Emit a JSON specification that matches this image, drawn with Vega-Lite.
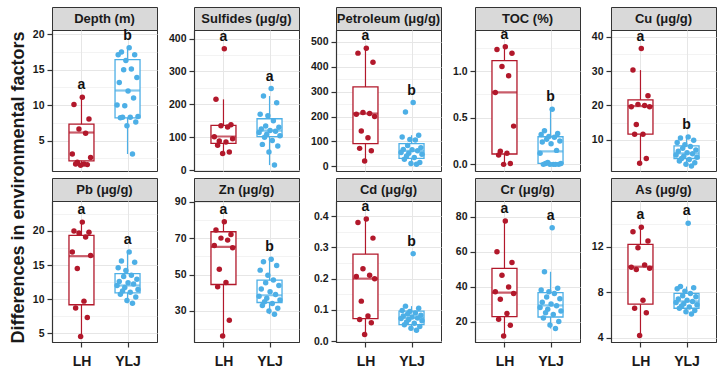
{
"$schema": "https://vega.github.io/schema/vega-lite/v6.json",
"background": "white",
"padding": {"left": 9, "top": 6, "right": 3, "bottom": 3},
"title": {"text": "Differences in environmental factors", "orient": "left", "anchor": "middle", "fontSize": 18, "fontWeight": "bold", "font": "Liberation Sans", "color": "#1a1a1a", "offset": 4},
"config": {
  "font": "Liberation Sans",
  "view": {"stroke": "#333333", "strokeWidth": 1},
  "range": {"category": ["#B2182B", "#4DAFE6"]},
  "legend": {"disable": true},
  "axis": {"labelFont": "Liberation Sans", "labelFontWeight": "bold", "labelColor": "#1a1a1a", "tickColor": "#333333", "domainColor": "#333333", "domainWidth": 1.2, "tickWidth": 1.2, "gridColor": "#e6e6e6", "labelOverlap": false},
  "axisY": {"labelFontSize": 10.5, "tickSize": 5, "labelPadding": 3, "labelOverlap": false, "tickCount": 40}
},
"datasets": {
"pts": [
{"v":"Depth","g":"LH","val":11.1,"s":7},{"v":"Depth","g":"LH","val":10.1,"s":2},{"v":"Depth","g":"LH","val":8.05,"s":11},{"v":"Depth","g":"LH","val":6.64,"s":5},{"v":"Depth","g":"LH","val":6.03,"s":9},{"v":"Depth","g":"LH","val":3.1,"s":1},{"v":"Depth","g":"LH","val":2.6,"s":12},{"v":"Depth","g":"LH","val":1.95,"s":4},{"v":"Depth","g":"LH","val":1.7,"s":8},{"v":"Depth","g":"LH","val":1.7,"s":3},{"v":"Depth","g":"LH","val":1.6,"s":10},{"v":"Depth","g":"LH","val":1.5,"s":6},
{"v":"Depth","g":"YLJ","val":18.1,"s":12},{"v":"Depth","g":"YLJ","val":17.5,"s":5},{"v":"Depth","g":"YLJ","val":17.1,"s":17},{"v":"Depth","g":"YLJ","val":17.1,"s":2},{"v":"Depth","g":"YLJ","val":16.3,"s":9},{"v":"Depth","g":"YLJ","val":15.1,"s":14},{"v":"Depth","g":"YLJ","val":15.0,"s":7},{"v":"Depth","g":"YLJ","val":13.9,"s":19},{"v":"Depth","g":"YLJ","val":13.2,"s":3},{"v":"Depth","g":"YLJ","val":12.0,"s":11},{"v":"Depth","g":"YLJ","val":11.0,"s":16},{"v":"Depth","g":"YLJ","val":10.0,"s":1},{"v":"Depth","g":"YLJ","val":9.9,"s":8},{"v":"Depth","g":"YLJ","val":8.4,"s":20},{"v":"Depth","g":"YLJ","val":8.3,"s":6},{"v":"Depth","g":"YLJ","val":8.3,"s":13},{"v":"Depth","g":"YLJ","val":8.2,"s":4},{"v":"Depth","g":"YLJ","val":7.6,"s":18},{"v":"Depth","g":"YLJ","val":7.1,"s":10},{"v":"Depth","g":"YLJ","val":3.1,"s":15},
{"v":"Sulfides","g":"LH","val":369,"s":7},{"v":"Sulfides","g":"LH","val":215,"s":2},{"v":"Sulfides","g":"LH","val":138,"s":11},{"v":"Sulfides","g":"LH","val":135,"s":5},{"v":"Sulfides","g":"LH","val":131,"s":9},{"v":"Sulfides","g":"LH","val":101,"s":1},{"v":"Sulfides","g":"LH","val":95,"s":12},{"v":"Sulfides","g":"LH","val":88,"s":4},{"v":"Sulfides","g":"LH","val":85,"s":8},{"v":"Sulfides","g":"LH","val":75,"s":3},{"v":"Sulfides","g":"LH","val":55,"s":10},{"v":"Sulfides","g":"LH","val":50,"s":6},
{"v":"Sulfides","g":"YLJ","val":248,"s":12},{"v":"Sulfides","g":"YLJ","val":225,"s":5},{"v":"Sulfides","g":"YLJ","val":205,"s":17},{"v":"Sulfides","g":"YLJ","val":170,"s":2},{"v":"Sulfides","g":"YLJ","val":165,"s":9},{"v":"Sulfides","g":"YLJ","val":150,"s":14},{"v":"Sulfides","g":"YLJ","val":134,"s":7},{"v":"Sulfides","g":"YLJ","val":130,"s":19},{"v":"Sulfides","g":"YLJ","val":125,"s":3},{"v":"Sulfides","g":"YLJ","val":120,"s":11},{"v":"Sulfides","g":"YLJ","val":118,"s":16},{"v":"Sulfides","g":"YLJ","val":114,"s":1},{"v":"Sulfides","g":"YLJ","val":109,"s":8},{"v":"Sulfides","g":"YLJ","val":104,"s":20},{"v":"Sulfides","g":"YLJ","val":100,"s":6},{"v":"Sulfides","g":"YLJ","val":90,"s":13},{"v":"Sulfides","g":"YLJ","val":78,"s":4},{"v":"Sulfides","g":"YLJ","val":73,"s":18},{"v":"Sulfides","g":"YLJ","val":55,"s":10},{"v":"Sulfides","g":"YLJ","val":15,"s":15},
{"v":"Petroleum","g":"LH","val":475,"s":7},{"v":"Petroleum","g":"LH","val":455,"s":2},{"v":"Petroleum","g":"LH","val":418,"s":11},{"v":"Petroleum","g":"LH","val":216,"s":5},{"v":"Petroleum","g":"LH","val":212,"s":9},{"v":"Petroleum","g":"LH","val":209,"s":1},{"v":"Petroleum","g":"LH","val":200,"s":12},{"v":"Petroleum","g":"LH","val":142,"s":4},{"v":"Petroleum","g":"LH","val":115,"s":8},{"v":"Petroleum","g":"LH","val":72,"s":3},{"v":"Petroleum","g":"LH","val":62,"s":10},{"v":"Petroleum","g":"LH","val":21,"s":6},
{"v":"Petroleum","g":"YLJ","val":256,"s":12},{"v":"Petroleum","g":"YLJ","val":218,"s":5},{"v":"Petroleum","g":"YLJ","val":125,"s":17},{"v":"Petroleum","g":"YLJ","val":118,"s":2},{"v":"Petroleum","g":"YLJ","val":108,"s":9},{"v":"Petroleum","g":"YLJ","val":106,"s":14},{"v":"Petroleum","g":"YLJ","val":84,"s":7},{"v":"Petroleum","g":"YLJ","val":75,"s":19},{"v":"Petroleum","g":"YLJ","val":68,"s":3},{"v":"Petroleum","g":"YLJ","val":66,"s":11},{"v":"Petroleum","g":"YLJ","val":62,"s":16},{"v":"Petroleum","g":"YLJ","val":55,"s":1},{"v":"Petroleum","g":"YLJ","val":52,"s":8},{"v":"Petroleum","g":"YLJ","val":48,"s":20},{"v":"Petroleum","g":"YLJ","val":41,"s":6},{"v":"Petroleum","g":"YLJ","val":35,"s":13},{"v":"Petroleum","g":"YLJ","val":28,"s":4},{"v":"Petroleum","g":"YLJ","val":15,"s":18},{"v":"Petroleum","g":"YLJ","val":11,"s":10},{"v":"Petroleum","g":"YLJ","val":8,"s":15},
{"v":"TOC","g":"LH","val":1.26,"s":7},{"v":"TOC","g":"LH","val":1.23,"s":2},{"v":"TOC","g":"LH","val":1.19,"s":11},{"v":"TOC","g":"LH","val":1.05,"s":5},{"v":"TOC","g":"LH","val":0.95,"s":9},{"v":"TOC","g":"LH","val":0.77,"s":1},{"v":"TOC","g":"LH","val":0.41,"s":12},{"v":"TOC","g":"LH","val":0.14,"s":4},{"v":"TOC","g":"LH","val":0.12,"s":8},{"v":"TOC","g":"LH","val":0.10,"s":3},{"v":"TOC","g":"LH","val":0.01,"s":10},{"v":"TOC","g":"LH","val":0.0,"s":6},
{"v":"TOC","g":"YLJ","val":0.59,"s":12},{"v":"TOC","g":"YLJ","val":0.36,"s":5},{"v":"TOC","g":"YLJ","val":0.33,"s":17},{"v":"TOC","g":"YLJ","val":0.32,"s":2},{"v":"TOC","g":"YLJ","val":0.30,"s":9},{"v":"TOC","g":"YLJ","val":0.29,"s":14},{"v":"TOC","g":"YLJ","val":0.27,"s":7},{"v":"TOC","g":"YLJ","val":0.25,"s":19},{"v":"TOC","g":"YLJ","val":0.24,"s":3},{"v":"TOC","g":"YLJ","val":0.22,"s":11},{"v":"TOC","g":"YLJ","val":0.15,"s":16},{"v":"TOC","g":"YLJ","val":0.12,"s":1},{"v":"TOC","g":"YLJ","val":0.02,"s":8},{"v":"TOC","g":"YLJ","val":0.01,"s":20},{"v":"TOC","g":"YLJ","val":0.01,"s":6},{"v":"TOC","g":"YLJ","val":0.0,"s":13},{"v":"TOC","g":"YLJ","val":0.0,"s":4},{"v":"TOC","g":"YLJ","val":0.0,"s":18},{"v":"TOC","g":"YLJ","val":0.0,"s":10},{"v":"TOC","g":"YLJ","val":0.0,"s":15},
{"v":"Cu","g":"LH","val":36.6,"s":7},{"v":"Cu","g":"LH","val":30.3,"s":2},{"v":"Cu","g":"LH","val":22.8,"s":11},{"v":"Cu","g":"LH","val":20.3,"s":5},{"v":"Cu","g":"LH","val":20.0,"s":9},{"v":"Cu","g":"LH","val":19.6,"s":1},{"v":"Cu","g":"LH","val":19.6,"s":12},{"v":"Cu","g":"LH","val":14.4,"s":4},{"v":"Cu","g":"LH","val":11.6,"s":8},{"v":"Cu","g":"LH","val":11.6,"s":3},{"v":"Cu","g":"LH","val":4.5,"s":10},{"v":"Cu","g":"LH","val":3.1,"s":6},
{"v":"Cu","g":"YLJ","val":10.8,"s":12},{"v":"Cu","g":"YLJ","val":10.5,"s":5},{"v":"Cu","g":"YLJ","val":9.8,"s":17},{"v":"Cu","g":"YLJ","val":9.2,"s":2},{"v":"Cu","g":"YLJ","val":8.5,"s":9},{"v":"Cu","g":"YLJ","val":8.0,"s":14},{"v":"Cu","g":"YLJ","val":7.5,"s":7},{"v":"Cu","g":"YLJ","val":7.0,"s":19},{"v":"Cu","g":"YLJ","val":6.6,"s":3},{"v":"Cu","g":"YLJ","val":6.2,"s":11},{"v":"Cu","g":"YLJ","val":5.9,"s":16},{"v":"Cu","g":"YLJ","val":5.5,"s":1},{"v":"Cu","g":"YLJ","val":5.2,"s":8},{"v":"Cu","g":"YLJ","val":4.9,"s":20},{"v":"Cu","g":"YLJ","val":4.5,"s":6},{"v":"Cu","g":"YLJ","val":4.2,"s":13},{"v":"Cu","g":"YLJ","val":3.8,"s":4},{"v":"Cu","g":"YLJ","val":3.3,"s":18},{"v":"Cu","g":"YLJ","val":2.8,"s":10},{"v":"Cu","g":"YLJ","val":2.3,"s":15},
{"v":"Pb","g":"LH","val":21.3,"s":7},{"v":"Pb","g":"LH","val":20.0,"s":2},{"v":"Pb","g":"LH","val":19.8,"s":11},{"v":"Pb","g":"LH","val":19.7,"s":5},{"v":"Pb","g":"LH","val":19.1,"s":9},{"v":"Pb","g":"LH","val":16.9,"s":1},{"v":"Pb","g":"LH","val":16.4,"s":12},{"v":"Pb","g":"LH","val":14.5,"s":4},{"v":"Pb","g":"LH","val":9.7,"s":8},{"v":"Pb","g":"LH","val":8.7,"s":3},{"v":"Pb","g":"LH","val":7.3,"s":10},{"v":"Pb","g":"LH","val":4.5,"s":6},
{"v":"Pb","g":"YLJ","val":16.9,"s":12},{"v":"Pb","g":"YLJ","val":15.6,"s":5},{"v":"Pb","g":"YLJ","val":15.4,"s":17},{"v":"Pb","g":"YLJ","val":14.6,"s":2},{"v":"Pb","g":"YLJ","val":14.2,"s":9},{"v":"Pb","g":"YLJ","val":13.5,"s":14},{"v":"Pb","g":"YLJ","val":13.3,"s":7},{"v":"Pb","g":"YLJ","val":12.9,"s":19},{"v":"Pb","g":"YLJ","val":12.6,"s":3},{"v":"Pb","g":"YLJ","val":12.4,"s":11},{"v":"Pb","g":"YLJ","val":12.2,"s":16},{"v":"Pb","g":"YLJ","val":12.0,"s":1},{"v":"Pb","g":"YLJ","val":11.7,"s":8},{"v":"Pb","g":"YLJ","val":11.4,"s":20},{"v":"Pb","g":"YLJ","val":11.2,"s":6},{"v":"Pb","g":"YLJ","val":11.0,"s":13},{"v":"Pb","g":"YLJ","val":10.7,"s":4},{"v":"Pb","g":"YLJ","val":10.3,"s":18},{"v":"Pb","g":"YLJ","val":9.8,"s":10},{"v":"Pb","g":"YLJ","val":9.4,"s":15},
{"v":"Zn","g":"LH","val":79,"s":7},{"v":"Zn","g":"LH","val":74.4,"s":2},{"v":"Zn","g":"LH","val":72,"s":11},{"v":"Zn","g":"LH","val":70,"s":5},{"v":"Zn","g":"LH","val":68.9,"s":9},{"v":"Zn","g":"LH","val":66,"s":1},{"v":"Zn","g":"LH","val":64.7,"s":12},{"v":"Zn","g":"LH","val":52.9,"s":4},{"v":"Zn","g":"LH","val":45.6,"s":8},{"v":"Zn","g":"LH","val":43.2,"s":3},{"v":"Zn","g":"LH","val":24.9,"s":10},{"v":"Zn","g":"LH","val":16.2,"s":6},
{"v":"Zn","g":"YLJ","val":58.4,"s":12},{"v":"Zn","g":"YLJ","val":57,"s":5},{"v":"Zn","g":"YLJ","val":55,"s":17},{"v":"Zn","g":"YLJ","val":52.4,"s":2},{"v":"Zn","g":"YLJ","val":49.6,"s":9},{"v":"Zn","g":"YLJ","val":47,"s":14},{"v":"Zn","g":"YLJ","val":45.5,"s":7},{"v":"Zn","g":"YLJ","val":44,"s":19},{"v":"Zn","g":"YLJ","val":42,"s":3},{"v":"Zn","g":"YLJ","val":40.5,"s":11},{"v":"Zn","g":"YLJ","val":39,"s":16},{"v":"Zn","g":"YLJ","val":38,"s":1},{"v":"Zn","g":"YLJ","val":37,"s":8},{"v":"Zn","g":"YLJ","val":36,"s":20},{"v":"Zn","g":"YLJ","val":35,"s":6},{"v":"Zn","g":"YLJ","val":34,"s":13},{"v":"Zn","g":"YLJ","val":33,"s":4},{"v":"Zn","g":"YLJ","val":31.5,"s":18},{"v":"Zn","g":"YLJ","val":30,"s":10},{"v":"Zn","g":"YLJ","val":28.2,"s":15},
{"v":"Cd","g":"LH","val":0.391,"s":7},{"v":"Cd","g":"LH","val":0.38,"s":2},{"v":"Cd","g":"LH","val":0.33,"s":11},{"v":"Cd","g":"LH","val":0.232,"s":5},{"v":"Cd","g":"LH","val":0.211,"s":9},{"v":"Cd","g":"LH","val":0.207,"s":1},{"v":"Cd","g":"LH","val":0.2,"s":12},{"v":"Cd","g":"LH","val":0.128,"s":4},{"v":"Cd","g":"LH","val":0.08,"s":8},{"v":"Cd","g":"LH","val":0.069,"s":3},{"v":"Cd","g":"LH","val":0.059,"s":10},{"v":"Cd","g":"LH","val":0.021,"s":6},
{"v":"Cd","g":"YLJ","val":0.28,"s":12},{"v":"Cd","g":"YLJ","val":0.112,"s":5},{"v":"Cd","g":"YLJ","val":0.105,"s":17},{"v":"Cd","g":"YLJ","val":0.098,"s":2},{"v":"Cd","g":"YLJ","val":0.095,"s":9},{"v":"Cd","g":"YLJ","val":0.09,"s":14},{"v":"Cd","g":"YLJ","val":0.087,"s":7},{"v":"Cd","g":"YLJ","val":0.083,"s":19},{"v":"Cd","g":"YLJ","val":0.08,"s":3},{"v":"Cd","g":"YLJ","val":0.077,"s":11},{"v":"Cd","g":"YLJ","val":0.074,"s":16},{"v":"Cd","g":"YLJ","val":0.072,"s":1},{"v":"Cd","g":"YLJ","val":0.069,"s":8},{"v":"Cd","g":"YLJ","val":0.065,"s":20},{"v":"Cd","g":"YLJ","val":0.061,"s":6},{"v":"Cd","g":"YLJ","val":0.057,"s":13},{"v":"Cd","g":"YLJ","val":0.052,"s":4},{"v":"Cd","g":"YLJ","val":0.047,"s":18},{"v":"Cd","g":"YLJ","val":0.041,"s":10},{"v":"Cd","g":"YLJ","val":0.035,"s":15},
{"v":"Cr","g":"LH","val":77.5,"s":7},{"v":"Cr","g":"LH","val":59.9,"s":2},{"v":"Cr","g":"LH","val":53.8,"s":11},{"v":"Cr","g":"LH","val":46.5,"s":5},{"v":"Cr","g":"LH","val":39.8,"s":9},{"v":"Cr","g":"LH","val":37,"s":1},{"v":"Cr","g":"LH","val":36,"s":12},{"v":"Cr","g":"LH","val":32.8,"s":4},{"v":"Cr","g":"LH","val":24.6,"s":8},{"v":"Cr","g":"LH","val":21.3,"s":3},{"v":"Cr","g":"LH","val":17.9,"s":10},{"v":"Cr","g":"LH","val":11.7,"s":6},
{"v":"Cr","g":"YLJ","val":73.7,"s":12},{"v":"Cr","g":"YLJ","val":48.5,"s":5},{"v":"Cr","g":"YLJ","val":39,"s":17},{"v":"Cr","g":"YLJ","val":38,"s":2},{"v":"Cr","g":"YLJ","val":37,"s":9},{"v":"Cr","g":"YLJ","val":36,"s":14},{"v":"Cr","g":"YLJ","val":34,"s":7},{"v":"Cr","g":"YLJ","val":33,"s":19},{"v":"Cr","g":"YLJ","val":31,"s":3},{"v":"Cr","g":"YLJ","val":30,"s":11},{"v":"Cr","g":"YLJ","val":29,"s":16},{"v":"Cr","g":"YLJ","val":28,"s":1},{"v":"Cr","g":"YLJ","val":27,"s":8},{"v":"Cr","g":"YLJ","val":26,"s":20},{"v":"Cr","g":"YLJ","val":25,"s":6},{"v":"Cr","g":"YLJ","val":24,"s":13},{"v":"Cr","g":"YLJ","val":22,"s":4},{"v":"Cr","g":"YLJ","val":20,"s":18},{"v":"Cr","g":"YLJ","val":18,"s":10},{"v":"Cr","g":"YLJ","val":16,"s":15},
{"v":"As","g":"LH","val":13.7,"s":7},{"v":"As","g":"LH","val":13.3,"s":2},{"v":"As","g":"LH","val":12.5,"s":11},{"v":"As","g":"LH","val":11.9,"s":5},{"v":"As","g":"LH","val":10.4,"s":9},{"v":"As","g":"LH","val":10.2,"s":1},{"v":"As","g":"LH","val":10.1,"s":12},{"v":"As","g":"LH","val":10.0,"s":4},{"v":"As","g":"LH","val":7.3,"s":8},{"v":"As","g":"LH","val":6.6,"s":3},{"v":"As","g":"LH","val":6.2,"s":10},{"v":"As","g":"LH","val":4.2,"s":6},
{"v":"As","g":"YLJ","val":14.05,"s":12},{"v":"As","g":"YLJ","val":8.5,"s":5},{"v":"As","g":"YLJ","val":8.4,"s":17},{"v":"As","g":"YLJ","val":8.3,"s":2},{"v":"As","g":"YLJ","val":8.1,"s":9},{"v":"As","g":"YLJ","val":7.9,"s":14},{"v":"As","g":"YLJ","val":7.7,"s":7},{"v":"As","g":"YLJ","val":7.6,"s":19},{"v":"As","g":"YLJ","val":7.4,"s":3},{"v":"As","g":"YLJ","val":7.3,"s":11},{"v":"As","g":"YLJ","val":7.2,"s":16},{"v":"As","g":"YLJ","val":7.1,"s":1},{"v":"As","g":"YLJ","val":7.0,"s":8},{"v":"As","g":"YLJ","val":6.9,"s":20},{"v":"As","g":"YLJ","val":6.8,"s":6},{"v":"As","g":"YLJ","val":6.7,"s":13},{"v":"As","g":"YLJ","val":6.6,"s":4},{"v":"As","g":"YLJ","val":6.4,"s":18},{"v":"As","g":"YLJ","val":6.3,"s":10},{"v":"As","g":"YLJ","val":6.1,"s":15}
],
"box": [
{"v":"Depth","g":"LH","lo":1.5,"q1":2.13,"md":6.13,"q3":7.31,"hi":11.1,"mx":11.1,"t":"a"},
{"v":"Depth","g":"YLJ","lo":3.1,"q1":8.2,"md":12.06,"q3":16.43,"hi":18.1,"mx":18.1,"t":"b"},
{"v":"Sulfides","g":"LH","lo":50,"q1":81,"md":102,"q3":136,"hi":215,"mx":369,"t":"a"},
{"v":"Sulfides","g":"YLJ","lo":15,"q1":101.5,"md":120,"q3":156,"hi":225,"mx":248,"t":"a"},
{"v":"Petroleum","g":"LH","lo":21,"q1":91,"md":212,"q3":319,"hi":475,"mx":475,"t":"a"},
{"v":"Petroleum","g":"YLJ","lo":8,"q1":32,"md":62,"q3":91,"hi":125,"mx":256,"t":"b"},
{"v":"TOC","g":"LH","lo":0.0,"q1":0.111,"md":0.771,"q3":1.111,"hi":1.26,"mx":1.26,"t":"a"},
{"v":"TOC","g":"YLJ","lo":0.0,"q1":0.011,"md":0.14,"q3":0.296,"hi":0.59,"mx":0.59,"t":"b"},
{"v":"Cu","g":"LH","lo":3.1,"q1":11.6,"md":19.8,"q3":21.6,"hi":30.3,"mx":36.6,"t":"a"},
{"v":"Cu","g":"YLJ","lo":2.3,"q1":4.5,"md":6.0,"q3":8.2,"hi":10.8,"mx":10.8,"t":"b"},
{"v":"Pb","g":"LH","lo":4.5,"q1":9.17,"md":16.3,"q3":19.36,"hi":21.3,"mx":21.3,"t":"a"},
{"v":"Pb","g":"YLJ","lo":9.4,"q1":10.9,"md":12.0,"q3":13.73,"hi":16.9,"mx":16.9,"t":"a"},
{"v":"Zn","g":"LH","lo":16.2,"q1":44.5,"md":65.2,"q3":73.5,"hi":79,"mx":79,"t":"a"},
{"v":"Zn","g":"YLJ","lo":28.2,"q1":34.6,"md":38.6,"q3":46.9,"hi":58.4,"mx":58.4,"t":"b"},
{"v":"Cd","g":"LH","lo":0.021,"q1":0.072,"md":0.2,"q3":0.279,"hi":0.391,"mx":0.391,"t":"a"},
{"v":"Cd","g":"YLJ","lo":0.035,"q1":0.053,"md":0.074,"q3":0.096,"hi":0.112,"mx":0.28,"t":"b"},
{"v":"Cr","g":"LH","lo":11.7,"q1":22.8,"md":36.6,"q3":50.4,"hi":77.5,"mx":77.5,"t":"a"},
{"v":"Cr","g":"YLJ","lo":16,"q1":22.6,"md":29.3,"q3":36.6,"hi":48.5,"mx":73.7,"t":"a"},
{"v":"As","g":"LH","lo":4.2,"q1":6.96,"md":10.24,"q3":12.2,"hi":13.7,"mx":13.7,"t":"a"},
{"v":"As","g":"YLJ","lo":6.1,"q1":6.6,"md":7.2,"q3":7.9,"hi":8.5,"mx":14.05,"t":"a"}
]
},
"columns": 5,
"spacing": {"row": 0, "column": 9},
"bounds": "full",
"concat": [
{"vconcat":[
 {"width":105,"height":23,"view":{"fill":"#d9d9d9","stroke":"#333333"},"data":{"values":[{"t":"Depth (m)"}]},"mark":{"type":"text","fontSize":13,"fontWeight":"bold","color":"#1a1a1a"},"encoding":{"text":{"field":"t","type":"nominal"}}},
 {"width":105,"height":141,
  "encoding":{"x":{"field":"g","type":"nominal","scale":{"type":"point","domain":["LH","YLJ"],"padding":0.64},"axis":{"title":null,"labels":false,"ticks":false,"domain":false,"grid":true}}},
  "layer":[
   {"data":{"name":"box"},"transform":[{"filter":"datum.v==='Depth'"}],"mark":{"type":"rule","strokeWidth":1.2},"encoding":{"y":{"field":"lo","type":"quantitative","title":null,"scale":{"domain":[0.7,20.6],"nice":false,"zero":false},"axis":{"values":[2.5,5,7.5,10,12.5,15,17.5,20],"tickCount":40,"format":"d","labelExpr":"indexof([5,10,15,20], datum.value) >= 0 ? datum.label : ''","tickOpacity":{"condition":{"test":"indexof([5,10,15,20], datum.value) < 0","value":0},"value":1},"gridWidth":{"condition":{"test":"indexof([5,10,15,20], datum.value) < 0","value":0.5},"value":1},"labelOverlap":false}},"y2":{"field":"hi"},"color":{"field":"g","type":"nominal"}}},
   {"data":{"name":"box"},"transform":[{"filter":"datum.v==='Depth'"}],"mark":{"type":"bar","size":25,"filled":false,"fill":"white","strokeWidth":1.3},"encoding":{"y":{"field":"q1","type":"quantitative","title":null,"scale":{"domain":[0.7,20.6],"nice":false,"zero":false}},"y2":{"field":"q3"},"color":{"field":"g","type":"nominal"}}},
   {"data":{"name":"box"},"transform":[{"filter":"datum.v==='Depth'"}],"mark":{"type":"tick","size":25,"thickness":2.2},"encoding":{"y":{"field":"md","type":"quantitative","title":null,"scale":{"domain":[0.7,20.6],"nice":false,"zero":false}},"color":{"field":"g","type":"nominal"}}},
   {"data":{"name":"pts"},"transform":[{"filter":"datum.v==='Depth' && datum.g==='LH'"}],"mark":{"type":"circle","size":30,"opacity":1},"encoding":{"y":{"field":"val","type":"quantitative","title":null,"scale":{"domain":[0.7,20.6],"nice":false,"zero":false}},"xOffset":{"field":"s","type":"quantitative","scale":{"domain":[0.5,12.5],"range":[-10,10]}},"color":{"field":"g","type":"nominal"}}},
   {"data":{"name":"pts"},"transform":[{"filter":"datum.v==='Depth' && datum.g==='YLJ'"}],"mark":{"type":"circle","size":30,"opacity":1},"encoding":{"y":{"field":"val","type":"quantitative","title":null,"scale":{"domain":[0.7,20.6],"nice":false,"zero":false}},"xOffset":{"field":"s","type":"quantitative","scale":{"domain":[0.5,20.5],"range":[-11,11]}},"color":{"field":"g","type":"nominal"}}},
   {"data":{"name":"box"},"transform":[{"filter":"datum.v==='Depth'"}],"mark":{"type":"text","fontSize":14,"fontWeight":"bold","dy":-12,"color":"#111111"},"encoding":{"y":{"field":"mx","type":"quantitative","title":null,"scale":{"domain":[0.7,20.6],"nice":false,"zero":false}},"text":{"field":"t","type":"nominal"}}}
  ],
  "resolve":{"scale":{"xOffset":"independent"}}
 }
],"spacing":0,"bounds":"flush"},
{"vconcat":[
 {"width":105,"height":23,"view":{"fill":"#d9d9d9","stroke":"#333333"},"data":{"values":[{"t":"Sulfides (μg/g)"}]},"mark":{"type":"text","fontSize":13,"fontWeight":"bold","color":"#1a1a1a"},"encoding":{"text":{"field":"t","type":"nominal"}}},
 {"width":105,"height":141,
  "encoding":{"x":{"field":"g","type":"nominal","scale":{"type":"point","domain":["LH","YLJ"],"padding":0.64},"axis":{"title":null,"labels":false,"ticks":false,"domain":false,"grid":true}}},
  "layer":[
   {"data":{"name":"box"},"transform":[{"filter":"datum.v==='Sulfides'"}],"mark":{"type":"rule","strokeWidth":1.2},"encoding":{"y":{"field":"lo","type":"quantitative","title":null,"scale":{"domain":[-3,426],"nice":false,"zero":false},"axis":{"values":[0,50,100,150,200,250,300,350,400],"tickCount":40,"format":"d","labelExpr":"indexof([0,100,200,300,400], datum.value) >= 0 ? datum.label : ''","tickOpacity":{"condition":{"test":"indexof([0,100,200,300,400], datum.value) < 0","value":0},"value":1},"gridWidth":{"condition":{"test":"indexof([0,100,200,300,400], datum.value) < 0","value":0.5},"value":1},"labelOverlap":false}},"y2":{"field":"hi"},"color":{"field":"g","type":"nominal"}}},
   {"data":{"name":"box"},"transform":[{"filter":"datum.v==='Sulfides'"}],"mark":{"type":"bar","size":25,"filled":false,"fill":"white","strokeWidth":1.3},"encoding":{"y":{"field":"q1","type":"quantitative","title":null,"scale":{"domain":[-3,426],"nice":false,"zero":false}},"y2":{"field":"q3"},"color":{"field":"g","type":"nominal"}}},
   {"data":{"name":"box"},"transform":[{"filter":"datum.v==='Sulfides'"}],"mark":{"type":"tick","size":25,"thickness":2.2},"encoding":{"y":{"field":"md","type":"quantitative","title":null,"scale":{"domain":[-3,426],"nice":false,"zero":false}},"color":{"field":"g","type":"nominal"}}},
   {"data":{"name":"pts"},"transform":[{"filter":"datum.v==='Sulfides' && datum.g==='LH'"}],"mark":{"type":"circle","size":30,"opacity":1},"encoding":{"y":{"field":"val","type":"quantitative","title":null,"scale":{"domain":[-3,426],"nice":false,"zero":false}},"xOffset":{"field":"s","type":"quantitative","scale":{"domain":[0.5,12.5],"range":[-10,10]}},"color":{"field":"g","type":"nominal"}}},
   {"data":{"name":"pts"},"transform":[{"filter":"datum.v==='Sulfides' && datum.g==='YLJ'"}],"mark":{"type":"circle","size":30,"opacity":1},"encoding":{"y":{"field":"val","type":"quantitative","title":null,"scale":{"domain":[-3,426],"nice":false,"zero":false}},"xOffset":{"field":"s","type":"quantitative","scale":{"domain":[0.5,20.5],"range":[-11,11]}},"color":{"field":"g","type":"nominal"}}},
   {"data":{"name":"box"},"transform":[{"filter":"datum.v==='Sulfides'"}],"mark":{"type":"text","fontSize":14,"fontWeight":"bold","dy":-12,"color":"#111111"},"encoding":{"y":{"field":"mx","type":"quantitative","title":null,"scale":{"domain":[-3,426],"nice":false,"zero":false}},"text":{"field":"t","type":"nominal"}}}
  ],
  "resolve":{"scale":{"xOffset":"independent"}}
 }
],"spacing":0,"bounds":"flush"},
{"vconcat":[
 {"width":105,"height":23,"view":{"fill":"#d9d9d9","stroke":"#333333"},"data":{"values":[{"t":"Petroleum (μg/g)"}]},"mark":{"type":"text","fontSize":13,"fontWeight":"bold","color":"#1a1a1a"},"encoding":{"text":{"field":"t","type":"nominal"}}},
 {"width":105,"height":141,
  "encoding":{"x":{"field":"g","type":"nominal","scale":{"type":"point","domain":["LH","YLJ"],"padding":0.64},"axis":{"title":null,"labels":false,"ticks":false,"domain":false,"grid":true}}},
  "layer":[
   {"data":{"name":"box"},"transform":[{"filter":"datum.v==='Petroleum'"}],"mark":{"type":"rule","strokeWidth":1.2},"encoding":{"y":{"field":"lo","type":"quantitative","title":null,"scale":{"domain":[-19,548],"nice":false,"zero":false},"axis":{"values":[0,50,100,150,200,250,300,350,400,450,500],"tickCount":40,"format":"d","labelExpr":"indexof([0,100,200,300,400,500], datum.value) >= 0 ? datum.label : ''","tickOpacity":{"condition":{"test":"indexof([0,100,200,300,400,500], datum.value) < 0","value":0},"value":1},"gridWidth":{"condition":{"test":"indexof([0,100,200,300,400,500], datum.value) < 0","value":0.5},"value":1},"labelOverlap":false}},"y2":{"field":"hi"},"color":{"field":"g","type":"nominal"}}},
   {"data":{"name":"box"},"transform":[{"filter":"datum.v==='Petroleum'"}],"mark":{"type":"bar","size":25,"filled":false,"fill":"white","strokeWidth":1.3},"encoding":{"y":{"field":"q1","type":"quantitative","title":null,"scale":{"domain":[-19,548],"nice":false,"zero":false}},"y2":{"field":"q3"},"color":{"field":"g","type":"nominal"}}},
   {"data":{"name":"box"},"transform":[{"filter":"datum.v==='Petroleum'"}],"mark":{"type":"tick","size":25,"thickness":2.2},"encoding":{"y":{"field":"md","type":"quantitative","title":null,"scale":{"domain":[-19,548],"nice":false,"zero":false}},"color":{"field":"g","type":"nominal"}}},
   {"data":{"name":"pts"},"transform":[{"filter":"datum.v==='Petroleum' && datum.g==='LH'"}],"mark":{"type":"circle","size":30,"opacity":1},"encoding":{"y":{"field":"val","type":"quantitative","title":null,"scale":{"domain":[-19,548],"nice":false,"zero":false}},"xOffset":{"field":"s","type":"quantitative","scale":{"domain":[0.5,12.5],"range":[-10,10]}},"color":{"field":"g","type":"nominal"}}},
   {"data":{"name":"pts"},"transform":[{"filter":"datum.v==='Petroleum' && datum.g==='YLJ'"}],"mark":{"type":"circle","size":30,"opacity":1},"encoding":{"y":{"field":"val","type":"quantitative","title":null,"scale":{"domain":[-19,548],"nice":false,"zero":false}},"xOffset":{"field":"s","type":"quantitative","scale":{"domain":[0.5,20.5],"range":[-11,11]}},"color":{"field":"g","type":"nominal"}}},
   {"data":{"name":"box"},"transform":[{"filter":"datum.v==='Petroleum'"}],"mark":{"type":"text","fontSize":14,"fontWeight":"bold","dy":-12,"color":"#111111"},"encoding":{"y":{"field":"mx","type":"quantitative","title":null,"scale":{"domain":[-19,548],"nice":false,"zero":false}},"text":{"field":"t","type":"nominal"}}}
  ],
  "resolve":{"scale":{"xOffset":"independent"}}
 }
],"spacing":0,"bounds":"flush"},
{"vconcat":[
 {"width":105,"height":23,"view":{"fill":"#d9d9d9","stroke":"#333333"},"data":{"values":[{"t":"TOC (%)"}]},"mark":{"type":"text","fontSize":13,"fontWeight":"bold","color":"#1a1a1a"},"encoding":{"text":{"field":"t","type":"nominal"}}},
 {"width":105,"height":141,
  "encoding":{"x":{"field":"g","type":"nominal","scale":{"type":"point","domain":["LH","YLJ"],"padding":0.64},"axis":{"title":null,"labels":false,"ticks":false,"domain":false,"grid":true}}},
  "layer":[
   {"data":{"name":"box"},"transform":[{"filter":"datum.v==='TOC'"}],"mark":{"type":"rule","strokeWidth":1.2},"encoding":{"y":{"field":"lo","type":"quantitative","title":null,"scale":{"domain":[-0.071,1.44],"nice":false,"zero":false},"axis":{"values":[0,0.25,0.5,0.75,1,1.25],"tickCount":40,"format":".1f","labelExpr":"indexof([0,0.5,1], datum.value) >= 0 ? datum.label : ''","tickOpacity":{"condition":{"test":"indexof([0,0.5,1], datum.value) < 0","value":0},"value":1},"gridWidth":{"condition":{"test":"indexof([0,0.5,1], datum.value) < 0","value":0.5},"value":1},"labelOverlap":false}},"y2":{"field":"hi"},"color":{"field":"g","type":"nominal"}}},
   {"data":{"name":"box"},"transform":[{"filter":"datum.v==='TOC'"}],"mark":{"type":"bar","size":25,"filled":false,"fill":"white","strokeWidth":1.3},"encoding":{"y":{"field":"q1","type":"quantitative","title":null,"scale":{"domain":[-0.071,1.44],"nice":false,"zero":false}},"y2":{"field":"q3"},"color":{"field":"g","type":"nominal"}}},
   {"data":{"name":"box"},"transform":[{"filter":"datum.v==='TOC'"}],"mark":{"type":"tick","size":25,"thickness":2.2},"encoding":{"y":{"field":"md","type":"quantitative","title":null,"scale":{"domain":[-0.071,1.44],"nice":false,"zero":false}},"color":{"field":"g","type":"nominal"}}},
   {"data":{"name":"pts"},"transform":[{"filter":"datum.v==='TOC' && datum.g==='LH'"}],"mark":{"type":"circle","size":30,"opacity":1},"encoding":{"y":{"field":"val","type":"quantitative","title":null,"scale":{"domain":[-0.071,1.44],"nice":false,"zero":false}},"xOffset":{"field":"s","type":"quantitative","scale":{"domain":[0.5,12.5],"range":[-10,10]}},"color":{"field":"g","type":"nominal"}}},
   {"data":{"name":"pts"},"transform":[{"filter":"datum.v==='TOC' && datum.g==='YLJ'"}],"mark":{"type":"circle","size":30,"opacity":1},"encoding":{"y":{"field":"val","type":"quantitative","title":null,"scale":{"domain":[-0.071,1.44],"nice":false,"zero":false}},"xOffset":{"field":"s","type":"quantitative","scale":{"domain":[0.5,20.5],"range":[-11,11]}},"color":{"field":"g","type":"nominal"}}},
   {"data":{"name":"box"},"transform":[{"filter":"datum.v==='TOC'"}],"mark":{"type":"text","fontSize":14,"fontWeight":"bold","dy":-12,"color":"#111111"},"encoding":{"y":{"field":"mx","type":"quantitative","title":null,"scale":{"domain":[-0.071,1.44],"nice":false,"zero":false}},"text":{"field":"t","type":"nominal"}}}
  ],
  "resolve":{"scale":{"xOffset":"independent"}}
 }
],"spacing":0,"bounds":"flush"},
{"vconcat":[
 {"width":105,"height":23,"view":{"fill":"#d9d9d9","stroke":"#333333"},"data":{"values":[{"t":"Cu (μg/g)"}]},"mark":{"type":"text","fontSize":13,"fontWeight":"bold","color":"#1a1a1a"},"encoding":{"text":{"field":"t","type":"nominal"}}},
 {"width":105,"height":141,
  "encoding":{"x":{"field":"g","type":"nominal","scale":{"type":"point","domain":["LH","YLJ"],"padding":0.64},"axis":{"title":null,"labels":false,"ticks":false,"domain":false,"grid":true}}},
  "layer":[
   {"data":{"name":"box"},"transform":[{"filter":"datum.v==='Cu'"}],"mark":{"type":"rule","strokeWidth":1.2},"encoding":{"y":{"field":"lo","type":"quantitative","title":null,"scale":{"domain":[0.86,42],"nice":false,"zero":false},"axis":{"values":[5,10,15,20,25,30,35,40],"tickCount":40,"format":"d","labelExpr":"indexof([10,20,30,40], datum.value) >= 0 ? datum.label : ''","tickOpacity":{"condition":{"test":"indexof([10,20,30,40], datum.value) < 0","value":0},"value":1},"gridWidth":{"condition":{"test":"indexof([10,20,30,40], datum.value) < 0","value":0.5},"value":1},"labelOverlap":false}},"y2":{"field":"hi"},"color":{"field":"g","type":"nominal"}}},
   {"data":{"name":"box"},"transform":[{"filter":"datum.v==='Cu'"}],"mark":{"type":"bar","size":25,"filled":false,"fill":"white","strokeWidth":1.3},"encoding":{"y":{"field":"q1","type":"quantitative","title":null,"scale":{"domain":[0.86,42],"nice":false,"zero":false}},"y2":{"field":"q3"},"color":{"field":"g","type":"nominal"}}},
   {"data":{"name":"box"},"transform":[{"filter":"datum.v==='Cu'"}],"mark":{"type":"tick","size":25,"thickness":2.2},"encoding":{"y":{"field":"md","type":"quantitative","title":null,"scale":{"domain":[0.86,42],"nice":false,"zero":false}},"color":{"field":"g","type":"nominal"}}},
   {"data":{"name":"pts"},"transform":[{"filter":"datum.v==='Cu' && datum.g==='LH'"}],"mark":{"type":"circle","size":30,"opacity":1},"encoding":{"y":{"field":"val","type":"quantitative","title":null,"scale":{"domain":[0.86,42],"nice":false,"zero":false}},"xOffset":{"field":"s","type":"quantitative","scale":{"domain":[0.5,12.5],"range":[-10,10]}},"color":{"field":"g","type":"nominal"}}},
   {"data":{"name":"pts"},"transform":[{"filter":"datum.v==='Cu' && datum.g==='YLJ'"}],"mark":{"type":"circle","size":30,"opacity":1},"encoding":{"y":{"field":"val","type":"quantitative","title":null,"scale":{"domain":[0.86,42],"nice":false,"zero":false}},"xOffset":{"field":"s","type":"quantitative","scale":{"domain":[0.5,20.5],"range":[-11,11]}},"color":{"field":"g","type":"nominal"}}},
   {"data":{"name":"box"},"transform":[{"filter":"datum.v==='Cu'"}],"mark":{"type":"text","fontSize":14,"fontWeight":"bold","dy":-12,"color":"#111111"},"encoding":{"y":{"field":"mx","type":"quantitative","title":null,"scale":{"domain":[0.86,42],"nice":false,"zero":false}},"text":{"field":"t","type":"nominal"}}}
  ],
  "resolve":{"scale":{"xOffset":"independent"}}
 }
],"spacing":0,"bounds":"flush"},
{"vconcat":[
 {"width":105,"height":23,"view":{"fill":"#d9d9d9","stroke":"#333333"},"data":{"values":[{"t":"Pb (μg/g)"}]},"mark":{"type":"text","fontSize":13,"fontWeight":"bold","color":"#1a1a1a"},"encoding":{"text":{"field":"t","type":"nominal"}}},
 {"width":105,"height":141,
  "encoding":{"x":{"field":"g","type":"nominal","scale":{"type":"point","domain":["LH","YLJ"],"padding":0.64},"axis":{"title":null,"grid":true,"labelFontSize":14,"labelFontWeight":"bold","tickSize":5,"labelPadding":7,"labelAngle":0}}},
  "layer":[
   {"data":{"name":"box"},"transform":[{"filter":"datum.v==='Pb'"}],"mark":{"type":"rule","strokeWidth":1.2},"encoding":{"y":{"field":"lo","type":"quantitative","title":null,"scale":{"domain":[3.7,24.4],"nice":false,"zero":false},"axis":{"values":[5,7.5,10,12.5,15,17.5,20,22.5],"tickCount":40,"format":"d","labelExpr":"indexof([5,10,15,20], datum.value) >= 0 ? datum.label : ''","tickOpacity":{"condition":{"test":"indexof([5,10,15,20], datum.value) < 0","value":0},"value":1},"gridWidth":{"condition":{"test":"indexof([5,10,15,20], datum.value) < 0","value":0.5},"value":1},"labelOverlap":false}},"y2":{"field":"hi"},"color":{"field":"g","type":"nominal"}}},
   {"data":{"name":"box"},"transform":[{"filter":"datum.v==='Pb'"}],"mark":{"type":"bar","size":25,"filled":false,"fill":"white","strokeWidth":1.3},"encoding":{"y":{"field":"q1","type":"quantitative","title":null,"scale":{"domain":[3.7,24.4],"nice":false,"zero":false}},"y2":{"field":"q3"},"color":{"field":"g","type":"nominal"}}},
   {"data":{"name":"box"},"transform":[{"filter":"datum.v==='Pb'"}],"mark":{"type":"tick","size":25,"thickness":2.2},"encoding":{"y":{"field":"md","type":"quantitative","title":null,"scale":{"domain":[3.7,24.4],"nice":false,"zero":false}},"color":{"field":"g","type":"nominal"}}},
   {"data":{"name":"pts"},"transform":[{"filter":"datum.v==='Pb' && datum.g==='LH'"}],"mark":{"type":"circle","size":30,"opacity":1},"encoding":{"y":{"field":"val","type":"quantitative","title":null,"scale":{"domain":[3.7,24.4],"nice":false,"zero":false}},"xOffset":{"field":"s","type":"quantitative","scale":{"domain":[0.5,12.5],"range":[-10,10]}},"color":{"field":"g","type":"nominal"}}},
   {"data":{"name":"pts"},"transform":[{"filter":"datum.v==='Pb' && datum.g==='YLJ'"}],"mark":{"type":"circle","size":30,"opacity":1},"encoding":{"y":{"field":"val","type":"quantitative","title":null,"scale":{"domain":[3.7,24.4],"nice":false,"zero":false}},"xOffset":{"field":"s","type":"quantitative","scale":{"domain":[0.5,20.5],"range":[-11,11]}},"color":{"field":"g","type":"nominal"}}},
   {"data":{"name":"box"},"transform":[{"filter":"datum.v==='Pb'"}],"mark":{"type":"text","fontSize":14,"fontWeight":"bold","dy":-12,"color":"#111111"},"encoding":{"y":{"field":"mx","type":"quantitative","title":null,"scale":{"domain":[3.7,24.4],"nice":false,"zero":false}},"text":{"field":"t","type":"nominal"}}}
  ],
  "resolve":{"scale":{"xOffset":"independent"}}
 }
],"spacing":0,"bounds":"flush"},
{"vconcat":[
 {"width":105,"height":23,"view":{"fill":"#d9d9d9","stroke":"#333333"},"data":{"values":[{"t":"Zn (μg/g)"}]},"mark":{"type":"text","fontSize":13,"fontWeight":"bold","color":"#1a1a1a"},"encoding":{"text":{"field":"t","type":"nominal"}}},
 {"width":105,"height":141,
  "encoding":{"x":{"field":"g","type":"nominal","scale":{"type":"point","domain":["LH","YLJ"],"padding":0.64},"axis":{"title":null,"grid":true,"labelFontSize":14,"labelFontWeight":"bold","tickSize":5,"labelPadding":7,"labelAngle":0}}},
  "layer":[
   {"data":{"name":"box"},"transform":[{"filter":"datum.v==='Zn'"}],"mark":{"type":"rule","strokeWidth":1.2},"encoding":{"y":{"field":"lo","type":"quantitative","title":null,"scale":{"domain":[12.9,90.4],"nice":false,"zero":false},"axis":{"values":[20,30,40,50,60,70,80,90],"tickCount":40,"format":"d","labelExpr":"indexof([30,50,70,90], datum.value) >= 0 ? datum.label : ''","tickOpacity":{"condition":{"test":"indexof([30,50,70,90], datum.value) < 0","value":0},"value":1},"gridWidth":{"condition":{"test":"indexof([30,50,70,90], datum.value) < 0","value":0.5},"value":1},"labelOverlap":false}},"y2":{"field":"hi"},"color":{"field":"g","type":"nominal"}}},
   {"data":{"name":"box"},"transform":[{"filter":"datum.v==='Zn'"}],"mark":{"type":"bar","size":25,"filled":false,"fill":"white","strokeWidth":1.3},"encoding":{"y":{"field":"q1","type":"quantitative","title":null,"scale":{"domain":[12.9,90.4],"nice":false,"zero":false}},"y2":{"field":"q3"},"color":{"field":"g","type":"nominal"}}},
   {"data":{"name":"box"},"transform":[{"filter":"datum.v==='Zn'"}],"mark":{"type":"tick","size":25,"thickness":2.2},"encoding":{"y":{"field":"md","type":"quantitative","title":null,"scale":{"domain":[12.9,90.4],"nice":false,"zero":false}},"color":{"field":"g","type":"nominal"}}},
   {"data":{"name":"pts"},"transform":[{"filter":"datum.v==='Zn' && datum.g==='LH'"}],"mark":{"type":"circle","size":30,"opacity":1},"encoding":{"y":{"field":"val","type":"quantitative","title":null,"scale":{"domain":[12.9,90.4],"nice":false,"zero":false}},"xOffset":{"field":"s","type":"quantitative","scale":{"domain":[0.5,12.5],"range":[-10,10]}},"color":{"field":"g","type":"nominal"}}},
   {"data":{"name":"pts"},"transform":[{"filter":"datum.v==='Zn' && datum.g==='YLJ'"}],"mark":{"type":"circle","size":30,"opacity":1},"encoding":{"y":{"field":"val","type":"quantitative","title":null,"scale":{"domain":[12.9,90.4],"nice":false,"zero":false}},"xOffset":{"field":"s","type":"quantitative","scale":{"domain":[0.5,20.5],"range":[-11,11]}},"color":{"field":"g","type":"nominal"}}},
   {"data":{"name":"box"},"transform":[{"filter":"datum.v==='Zn'"}],"mark":{"type":"text","fontSize":14,"fontWeight":"bold","dy":-12,"color":"#111111"},"encoding":{"y":{"field":"mx","type":"quantitative","title":null,"scale":{"domain":[12.9,90.4],"nice":false,"zero":false}},"text":{"field":"t","type":"nominal"}}}
  ],
  "resolve":{"scale":{"xOffset":"independent"}}
 }
],"spacing":0,"bounds":"flush"},
{"vconcat":[
 {"width":105,"height":23,"view":{"fill":"#d9d9d9","stroke":"#333333"},"data":{"values":[{"t":"Cd (μg/g)"}]},"mark":{"type":"text","fontSize":13,"fontWeight":"bold","color":"#1a1a1a"},"encoding":{"text":{"field":"t","type":"nominal"}}},
 {"width":105,"height":141,
  "encoding":{"x":{"field":"g","type":"nominal","scale":{"type":"point","domain":["LH","YLJ"],"padding":0.64},"axis":{"title":null,"grid":true,"labelFontSize":14,"labelFontWeight":"bold","tickSize":5,"labelPadding":7,"labelAngle":0}}},
  "layer":[
   {"data":{"name":"box"},"transform":[{"filter":"datum.v==='Cd'"}],"mark":{"type":"rule","strokeWidth":1.2},"encoding":{"y":{"field":"lo","type":"quantitative","title":null,"scale":{"domain":[-0.003,0.449],"nice":false,"zero":false},"axis":{"values":[0,0.05,0.1,0.15,0.2,0.25,0.3,0.35,0.4],"tickCount":40,"format":".1f","labelExpr":"indexof([0,0.1,0.2,0.3,0.4], datum.value) >= 0 ? datum.label : ''","tickOpacity":{"condition":{"test":"indexof([0,0.1,0.2,0.3,0.4], datum.value) < 0","value":0},"value":1},"gridWidth":{"condition":{"test":"indexof([0,0.1,0.2,0.3,0.4], datum.value) < 0","value":0.5},"value":1},"labelOverlap":false}},"y2":{"field":"hi"},"color":{"field":"g","type":"nominal"}}},
   {"data":{"name":"box"},"transform":[{"filter":"datum.v==='Cd'"}],"mark":{"type":"bar","size":25,"filled":false,"fill":"white","strokeWidth":1.3},"encoding":{"y":{"field":"q1","type":"quantitative","title":null,"scale":{"domain":[-0.003,0.449],"nice":false,"zero":false}},"y2":{"field":"q3"},"color":{"field":"g","type":"nominal"}}},
   {"data":{"name":"box"},"transform":[{"filter":"datum.v==='Cd'"}],"mark":{"type":"tick","size":25,"thickness":2.2},"encoding":{"y":{"field":"md","type":"quantitative","title":null,"scale":{"domain":[-0.003,0.449],"nice":false,"zero":false}},"color":{"field":"g","type":"nominal"}}},
   {"data":{"name":"pts"},"transform":[{"filter":"datum.v==='Cd' && datum.g==='LH'"}],"mark":{"type":"circle","size":30,"opacity":1},"encoding":{"y":{"field":"val","type":"quantitative","title":null,"scale":{"domain":[-0.003,0.449],"nice":false,"zero":false}},"xOffset":{"field":"s","type":"quantitative","scale":{"domain":[0.5,12.5],"range":[-10,10]}},"color":{"field":"g","type":"nominal"}}},
   {"data":{"name":"pts"},"transform":[{"filter":"datum.v==='Cd' && datum.g==='YLJ'"}],"mark":{"type":"circle","size":30,"opacity":1},"encoding":{"y":{"field":"val","type":"quantitative","title":null,"scale":{"domain":[-0.003,0.449],"nice":false,"zero":false}},"xOffset":{"field":"s","type":"quantitative","scale":{"domain":[0.5,20.5],"range":[-11,11]}},"color":{"field":"g","type":"nominal"}}},
   {"data":{"name":"box"},"transform":[{"filter":"datum.v==='Cd'"}],"mark":{"type":"text","fontSize":14,"fontWeight":"bold","dy":-12,"color":"#111111"},"encoding":{"y":{"field":"mx","type":"quantitative","title":null,"scale":{"domain":[-0.003,0.449],"nice":false,"zero":false}},"text":{"field":"t","type":"nominal"}}}
  ],
  "resolve":{"scale":{"xOffset":"independent"}}
 }
],"spacing":0,"bounds":"flush"},
{"vconcat":[
 {"width":105,"height":23,"view":{"fill":"#d9d9d9","stroke":"#333333"},"data":{"values":[{"t":"Cr (μg/g)"}]},"mark":{"type":"text","fontSize":13,"fontWeight":"bold","color":"#1a1a1a"},"encoding":{"text":{"field":"t","type":"nominal"}}},
 {"width":105,"height":141,
  "encoding":{"x":{"field":"g","type":"nominal","scale":{"type":"point","domain":["LH","YLJ"],"padding":0.64},"axis":{"title":null,"grid":true,"labelFontSize":14,"labelFontWeight":"bold","tickSize":5,"labelPadding":7,"labelAngle":0}}},
  "layer":[
   {"data":{"name":"box"},"transform":[{"filter":"datum.v==='Cr'"}],"mark":{"type":"rule","strokeWidth":1.2},"encoding":{"y":{"field":"lo","type":"quantitative","title":null,"scale":{"domain":[8.3,89],"nice":false,"zero":false},"axis":{"values":[10,20,30,40,50,60,70,80],"tickCount":40,"format":"d","labelExpr":"indexof([20,40,60,80], datum.value) >= 0 ? datum.label : ''","tickOpacity":{"condition":{"test":"indexof([20,40,60,80], datum.value) < 0","value":0},"value":1},"gridWidth":{"condition":{"test":"indexof([20,40,60,80], datum.value) < 0","value":0.5},"value":1},"labelOverlap":false}},"y2":{"field":"hi"},"color":{"field":"g","type":"nominal"}}},
   {"data":{"name":"box"},"transform":[{"filter":"datum.v==='Cr'"}],"mark":{"type":"bar","size":25,"filled":false,"fill":"white","strokeWidth":1.3},"encoding":{"y":{"field":"q1","type":"quantitative","title":null,"scale":{"domain":[8.3,89],"nice":false,"zero":false}},"y2":{"field":"q3"},"color":{"field":"g","type":"nominal"}}},
   {"data":{"name":"box"},"transform":[{"filter":"datum.v==='Cr'"}],"mark":{"type":"tick","size":25,"thickness":2.2},"encoding":{"y":{"field":"md","type":"quantitative","title":null,"scale":{"domain":[8.3,89],"nice":false,"zero":false}},"color":{"field":"g","type":"nominal"}}},
   {"data":{"name":"pts"},"transform":[{"filter":"datum.v==='Cr' && datum.g==='LH'"}],"mark":{"type":"circle","size":30,"opacity":1},"encoding":{"y":{"field":"val","type":"quantitative","title":null,"scale":{"domain":[8.3,89],"nice":false,"zero":false}},"xOffset":{"field":"s","type":"quantitative","scale":{"domain":[0.5,12.5],"range":[-10,10]}},"color":{"field":"g","type":"nominal"}}},
   {"data":{"name":"pts"},"transform":[{"filter":"datum.v==='Cr' && datum.g==='YLJ'"}],"mark":{"type":"circle","size":30,"opacity":1},"encoding":{"y":{"field":"val","type":"quantitative","title":null,"scale":{"domain":[8.3,89],"nice":false,"zero":false}},"xOffset":{"field":"s","type":"quantitative","scale":{"domain":[0.5,20.5],"range":[-11,11]}},"color":{"field":"g","type":"nominal"}}},
   {"data":{"name":"box"},"transform":[{"filter":"datum.v==='Cr'"}],"mark":{"type":"text","fontSize":14,"fontWeight":"bold","dy":-12,"color":"#111111"},"encoding":{"y":{"field":"mx","type":"quantitative","title":null,"scale":{"domain":[8.3,89],"nice":false,"zero":false}},"text":{"field":"t","type":"nominal"}}}
  ],
  "resolve":{"scale":{"xOffset":"independent"}}
 }
],"spacing":0,"bounds":"flush"},
{"vconcat":[
 {"width":105,"height":23,"view":{"fill":"#d9d9d9","stroke":"#333333"},"data":{"values":[{"t":"As (μg/g)"}]},"mark":{"type":"text","fontSize":13,"fontWeight":"bold","color":"#1a1a1a"},"encoding":{"text":{"field":"t","type":"nominal"}}},
 {"width":105,"height":141,
  "encoding":{"x":{"field":"g","type":"nominal","scale":{"type":"point","domain":["LH","YLJ"],"padding":0.64},"axis":{"title":null,"grid":true,"labelFontSize":14,"labelFontWeight":"bold","tickSize":5,"labelPadding":7,"labelAngle":0}}},
  "layer":[
   {"data":{"name":"box"},"transform":[{"filter":"datum.v==='As'"}],"mark":{"type":"rule","strokeWidth":1.2},"encoding":{"y":{"field":"lo","type":"quantitative","title":null,"scale":{"domain":[3.64,16],"nice":false,"zero":false},"axis":{"values":[4,6,8,10,12,14],"tickCount":40,"format":"d","labelExpr":"indexof([4,8,12], datum.value) >= 0 ? datum.label : ''","tickOpacity":{"condition":{"test":"indexof([4,8,12], datum.value) < 0","value":0},"value":1},"gridWidth":{"condition":{"test":"indexof([4,8,12], datum.value) < 0","value":0.5},"value":1},"labelOverlap":false}},"y2":{"field":"hi"},"color":{"field":"g","type":"nominal"}}},
   {"data":{"name":"box"},"transform":[{"filter":"datum.v==='As'"}],"mark":{"type":"bar","size":25,"filled":false,"fill":"white","strokeWidth":1.3},"encoding":{"y":{"field":"q1","type":"quantitative","title":null,"scale":{"domain":[3.64,16],"nice":false,"zero":false}},"y2":{"field":"q3"},"color":{"field":"g","type":"nominal"}}},
   {"data":{"name":"box"},"transform":[{"filter":"datum.v==='As'"}],"mark":{"type":"tick","size":25,"thickness":2.2},"encoding":{"y":{"field":"md","type":"quantitative","title":null,"scale":{"domain":[3.64,16],"nice":false,"zero":false}},"color":{"field":"g","type":"nominal"}}},
   {"data":{"name":"pts"},"transform":[{"filter":"datum.v==='As' && datum.g==='LH'"}],"mark":{"type":"circle","size":30,"opacity":1},"encoding":{"y":{"field":"val","type":"quantitative","title":null,"scale":{"domain":[3.64,16],"nice":false,"zero":false}},"xOffset":{"field":"s","type":"quantitative","scale":{"domain":[0.5,12.5],"range":[-10,10]}},"color":{"field":"g","type":"nominal"}}},
   {"data":{"name":"pts"},"transform":[{"filter":"datum.v==='As' && datum.g==='YLJ'"}],"mark":{"type":"circle","size":30,"opacity":1},"encoding":{"y":{"field":"val","type":"quantitative","title":null,"scale":{"domain":[3.64,16],"nice":false,"zero":false}},"xOffset":{"field":"s","type":"quantitative","scale":{"domain":[0.5,20.5],"range":[-11,11]}},"color":{"field":"g","type":"nominal"}}},
   {"data":{"name":"box"},"transform":[{"filter":"datum.v==='As'"}],"mark":{"type":"text","fontSize":14,"fontWeight":"bold","dy":-12,"color":"#111111"},"encoding":{"y":{"field":"mx","type":"quantitative","title":null,"scale":{"domain":[3.64,16],"nice":false,"zero":false}},"text":{"field":"t","type":"nominal"}}}
  ],
  "resolve":{"scale":{"xOffset":"independent"}}
 }
],"spacing":0,"bounds":"flush"}
]
}
